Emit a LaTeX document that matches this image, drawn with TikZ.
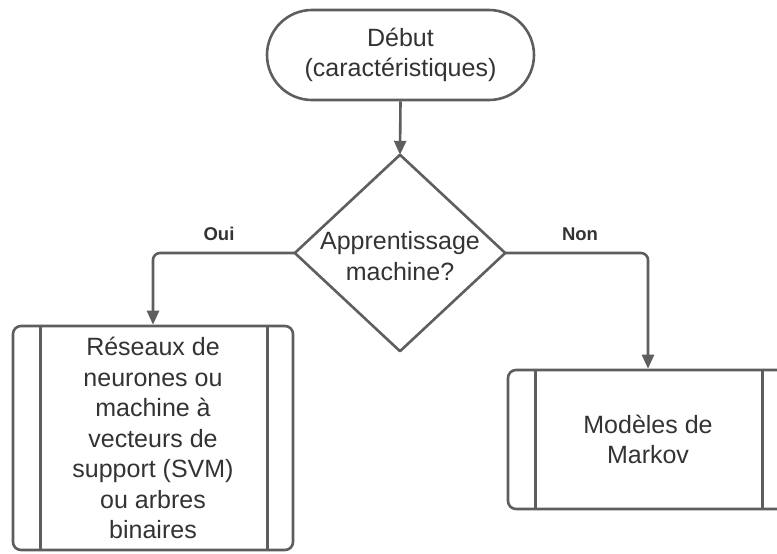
\documentclass[tikz,border=0pt]{standalone}
\usepackage{fontspec}
\setmainfont{Liberation Sans}
\usetikzlibrary{arrows.meta}
\definecolor{linec}{HTML}{5E5E5E}
\definecolor{textc}{HTML}{333333}
\begin{document}
\begin{tikzpicture}[x=1pt,y=-1pt,
  shapeline/.style={draw=linec, line width=2.6pt, line join=round},
  boxtext/.style={text=textc, font=\fontsize{25}{30.5}\selectfont, align=center, inner sep=0pt},
  procbox/.style={shapeline, rounded corners=8pt, minimum width=280pt, inner sep=0pt, boxtext},
  conn/.style={draw=linec, line width=2.6pt, rounded corners=7pt, -{Triangle[width=12pt,length=14pt]}},
  lbl/.style={text=textc, font=\fontsize{18.5}{22}\selectfont\bfseries, inner sep=0pt}]
\useasboundingbox (0,0) rectangle (777,554);
\clip (0,0) rectangle (777,554);
\fill[white] (0,0) rectangle (777,554);

% start terminal
\node[shapeline, rounded corners=45pt, minimum width=267pt, minimum height=90pt, boxtext] (start) at (400.5,55) {Début\\(caractéristiques)};

% decision diamond
\node[minimum width=210pt, minimum height=196pt, inner sep=0pt] (dec) at (400,253) {};
\draw[shapeline] (dec.north) -- (dec.east) -- (dec.south) -- (dec.west) -- cycle;
\node[boxtext] (dectext) at (400,256) {Apprentissage\\machine?};

% process boxes
\node[procbox, minimum height=224pt] (b1) at (153,438) {Réseaux de\\neurones ou\\machine à\\vecteurs de\\support (SVM)\\ou arbres\\binaires};
\draw[shapeline] ([xshift=29pt]b1.north west) -- ([xshift=29pt]b1.south west);
\draw[shapeline] ([xshift=-27pt]b1.north east) -- ([xshift=-27pt]b1.south east);

\node[procbox, minimum height=139pt] (b2) at (648,439.5) {Modèles de\\Markov};
\draw[shapeline] ([xshift=29pt]b2.north west) -- ([xshift=29pt]b2.south west);
\draw[shapeline] ([xshift=-27pt]b2.north east) -- ([xshift=-27pt]b2.south east);

% connectors
\draw[conn] (start.south) -- (dec.north);
\draw[conn] (dec.west) -| (b1.north);
\draw[conn] (dec.east) -| (b2.north);

% labels
\node[lbl] (oui) at (219,234) {Oui};
\node[lbl] (non) at (580,234) {Non};
\end{tikzpicture}
\end{document}
